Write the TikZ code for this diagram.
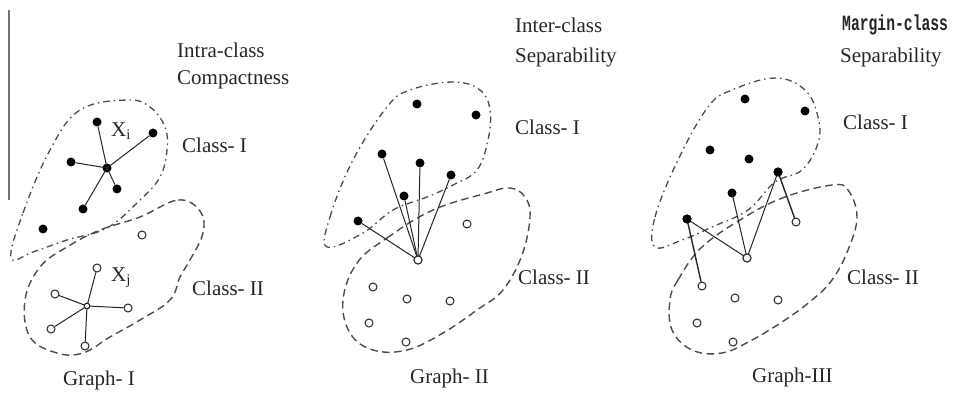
\documentclass[tikz,border=0pt]{standalone}
\usepackage{graphicx}
\usepackage{fontspec}
\setmainfont{Liberation Serif}
\newfontfamily\marginfont{Liberation Mono}
\begin{document}
\begin{tikzpicture}[x=1pt,y=-1pt,
  lbl/.style={font=\fontsize{21}{24}\selectfont, anchor=west, inner sep=0pt, text=black!85},
  mlbl/.style={font=\marginfont\bfseries\fontsize{15}{18}\selectfont, anchor=west, inner sep=0pt, text=black!85},
  fdot/.style={circle, fill=black, inner sep=0pt, minimum size=9pt},
  odot/.style={circle, draw=black!85, line width=1pt, fill=white, inner sep=0pt, minimum size=8pt},
  edge/.style={line width=1pt, black!85},
  cone/.style={line width=1.3pt, black!70, dash pattern=on 6.5pt off 4pt on 1.5pt off 4pt},
  ctwo/.style={line width=1.4pt, black!70, dash pattern=on 7.5pt off 4.5pt}]
\useasboundingbox (0,0) rectangle (955,395);

% left rule
\draw[line width=1.5pt, black!55] (9,10) -- (9,200);

%%%%%%%%%%%%%% Graph I
\draw[cone] plot[smooth cycle, tension=0.65] coordinates {(11,258)(23,213)(50,150)(80,110)(127,100)(150,107)(165,127)(167,150)(160,177)(140,200)(107,228)(67,240)(33,252)};
\draw[ctwo] plot[smooth cycle, tension=0.65] coordinates {(140,217)(178,200)(200,211)(203,233)(190,260)(180,277)(170,300)(140,320)(110,337)(83,353)(57,353)(30,337)(25,300)(40,267)(67,247)(100,230)};

\node[fdot] (a1) at (97,122) {};
\node[fdot] (a2) at (153,133) {};
\node[fdot] (a3) at (71,162) {};
\node[fdot] (ac) at (107,168) {};
\node[fdot] (a4) at (117,189) {};
\node[fdot] (a5) at (83,209) {};
\node[fdot] (a6) at (43,229) {};
\foreach \n in {a1,a2,a3,a4,a5} \draw[edge] (ac.center) -- (\n);

\node[odot] (b0) at (142,235) {};
\node[odot] (b1) at (97,268) {};
\node[odot] (b2) at (55,294) {};
\node[odot, minimum size=5.5pt] (bc) at (87,306) {};
\node[odot] (b3) at (128,308) {};
\node[odot] (b4) at (51,329) {};
\node[odot] (b5) at (85,346) {};
\foreach \n in {b1,b2,b3,b4,b5} \draw[edge] (bc.center) -- (\n);
\node[odot, minimum size=5.5pt] at (bc) {};

\node[lbl] (xi) at (111,131) {X$_{\mathrm{i}}$};
\node[lbl] (xj) at (111,278) {X$_{\mathrm{j}}$};
\node[lbl] (t1a) at (177,50) {Intra-class};
\node[lbl] (t1b) at (177,80) {Compactness};
\node[lbl] (c1a) at (182,145) {Class- I};
\node[lbl] (c1b) at (192,288) {Class- II};
\node[lbl] (g1) at (63,380) {Graph- I};

%%%%%%%%%%%%%% Graph II
\draw[cone] plot[smooth cycle, tension=0.65] coordinates {(327,247)(330,217)(353,160)(387,107)(410,90)(453,82)(480,90)(490,110)(488,140)(477,170)(453,185)(427,197)(393,210)(363,233)};
\draw[ctwo] plot[smooth cycle, tension=0.65] coordinates {(357,263)(387,238)(433,210)(487,193)(510,188)(525,197)(530,217)(522,255)(503,290)(477,310)(443,333)(407,350)(373,350)(350,333)(343,300)};

\node[fdot] (d1) at (417,104) {};
\node[fdot] (d2) at (476,115) {};
\node[fdot] (d3) at (382,154) {};
\node[fdot] (d4) at (420,163) {};
\node[fdot] (d5) at (451,175) {};
\node[fdot] (d6) at (404,196) {};
\node[fdot] (d7) at (358,221) {};
\node[odot] (eh) at (418,260) {};
\foreach \n in {d3,d4,d5,d6,d7} \draw[edge] (eh.center) -- (\n);
\node[odot] at (eh) {};
\node[odot] (e1) at (467,224) {};
\node[odot] (e2) at (373,287) {};
\node[odot] (e3) at (407,299) {};
\node[odot] (e4) at (450,301) {};
\node[odot] (e5) at (369,323) {};
\node[odot] (e6) at (406,342) {};

\node[lbl] (t2a) at (515,25) {Inter-class};
\node[lbl] (t2b) at (515,57) {Separability};
\node[lbl] (c2a) at (515,127) {Class- I};
\node[lbl] (c2b) at (518,277) {Class- II};
\node[lbl] (g2) at (410,378) {Graph- II};

%%%%%%%%%%%%%% Graph III
\draw[cone] plot[smooth cycle, tension=0.65] coordinates {(655,247)(655,217)(678,160)(708,107)(732,90)(775,78)(805,90)(818,117)(818,143)(802,170)(775,182)(748,210)(712,227)(682,240)};
\draw[ctwo] plot[smooth cycle, tension=0.65] coordinates {(670,300)(678,280)(702,247)(745,217)(785,197)(832,185)(848,190)(857,217)(848,250)(832,280)(812,300)(785,320)(752,340)(722,353)(692,350)(672,330)};

\node[fdot] (f1) at (745,99) {};
\node[fdot] (f2) at (805,111) {};
\node[fdot] (f3) at (710,150) {};
\node[fdot] (f4) at (749,159) {};
\node[fdot] (f5) at (778,172) {};
\node[fdot] (f6) at (732,193) {};
\node[fdot] (f7) at (687,219) {};
\node[odot] (gh) at (747,258) {};
\node[odot] (g1o) at (796,222) {};
\node[odot] (g2o) at (702,286) {};
\draw[edge] (f7.center) -- (gh.center);
\draw[edge] (f6.center) -- (gh.center);
\draw[edge] (f5.center) -- (gh.center);
\draw[edge, line width=1.4pt] (f5.center) -- (g1o);
\draw[edge, line width=1.4pt] (f7.center) -- (g2o);
\node[odot] at (gh) {};
\node[fdot] at (f5) {};
\node[fdot] at (f7) {};
\node[odot] (g3o) at (735,298) {};
\node[odot] (g4o) at (778,300) {};
\node[odot] (g5o) at (697,323) {};
\node[odot] (g6o) at (733,342) {};

\node[mlbl] (t3a) at (842,25) {\scalebox{0.98}[1.45]{Margin-class}};
\node[lbl] (t3b) at (840,57) {Separability};
\node[lbl] (c3a) at (843,122) {Class- I};
\node[lbl] (c3b) at (847,277) {Class- II};
\node[lbl] (g3) at (752,377) {Graph-III};
\end{tikzpicture}
\end{document}
